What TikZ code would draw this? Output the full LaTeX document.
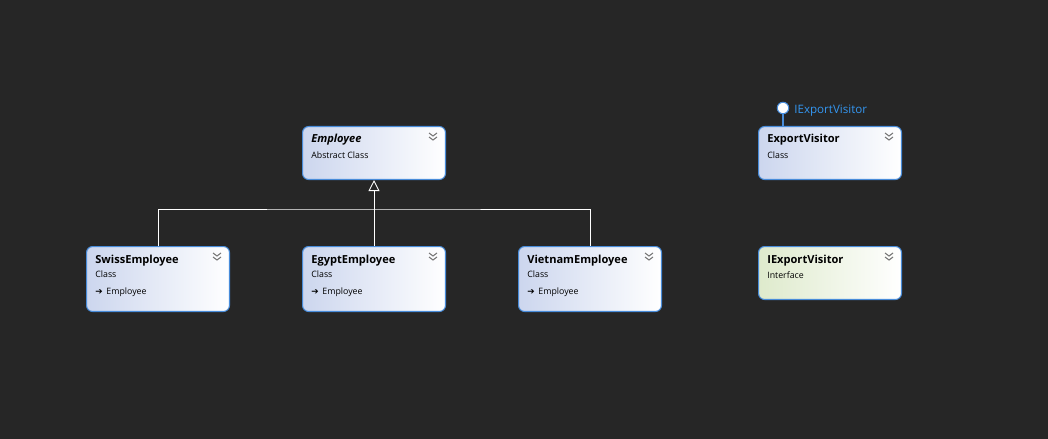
\documentclass[tikz,border=0pt]{standalone}
\usepackage{fontspec}
\setmainfont{Open Sans}
\newfontfamily\symfont{DejaVu Sans}
\usetikzlibrary{positioning,calc,arrows.meta}
\definecolor{bgcol}{RGB}{38,38,38}
\definecolor{boxblue}{RGB}{72,140,218}
\definecolor{boxleft}{RGB}{204,214,238}
\definecolor{ifaceleft}{RGB}{222,234,204}
\definecolor{chevgray}{RGB}{120,120,120}
\definecolor{linkblue}{RGB}{52,150,240}

\tikzset{
  classbox/.style={draw=boxblue, line width=0.6pt, rounded corners=3.5pt,
    left color=boxleft, right color=white, anchor=north west,
    minimum width=2.86cm, minimum height=1.06cm, inner sep=0pt},
  tallbox/.style={classbox, minimum height=1.3cm},
  ifacebox/.style={classbox, left color=ifaceleft},
  title/.style={anchor=base west, inner sep=0pt, font=\fontsize{6.3}{8}\selectfont\bfseries},
  subtitle/.style={anchor=base west, inner sep=0pt, font=\fontsize{5}{6}\selectfont},
  gen/.style={draw=white, line width=0.5pt}
}

\begin{document}
\begin{tikzpicture}[x=0.02cm, y=-0.02cm]
    \fill[bgcol] (0,0) rectangle (1048,439);

    % Employee
    \node[classbox] (employee) at (302,126) {};
    \node[title, font=\fontsize{6.3}{8}\selectfont\bfseries\itshape] (employeeT) at ($(employee.north west)+(9,17)$) {Employee};
    \node[subtitle] (employeeS) at ($(employee.north west)+(9,32)$) {Abstract Class};

    % Swiss
    \node[tallbox] (swiss) at (86,246) {};
    \node[title] (swissT) at ($(swiss.north west)+(9,17)$) {SwissEmployee};
    \node[subtitle] (swissS) at ($(swiss.north west)+(9,31)$) {Class};
    \node[subtitle] (swissB) at ($(swiss.north west)+(9,48)$) {{\symfont ➔}\, Employee};

    % Egypt
    \node[tallbox] (egypt) at (302,246) {};
    \node[title] (egyptT) at ($(egypt.north west)+(9,17)$) {EgyptEmployee};
    \node[subtitle] (egyptS) at ($(egypt.north west)+(9,31)$) {Class};
    \node[subtitle] (egyptB) at ($(egypt.north west)+(9,48)$) {{\symfont ➔}\, Employee};

    % Vietnam
    \node[tallbox] (vietnam) at (518,246) {};
    \node[title] (vietnamT) at ($(vietnam.north west)+(9,17)$) {VietnamEmployee};
    \node[subtitle] (vietnamS) at ($(vietnam.north west)+(9,31)$) {Class};
    \node[subtitle] (vietnamB) at ($(vietnam.north west)+(9,48)$) {{\symfont ➔}\, Employee};

    % Visitor
    \node[classbox] (export) at (758,126) {};
    \node[title] (exportT) at ($(export.north west)+(9,17)$) {ExportVisitor};
    \node[subtitle] (exportS) at ($(export.north west)+(9,32)$) {Class};

    % Interface
    \node[ifacebox] (iexport) at (758,246) {};
    \node[title] (iexportT) at ($(iexport.north west)+(9,17)$) {IExportVisitor};
    \node[subtitle] (iexportS) at ($(iexport.north west)+(9,32)$) {Interface};

    % lollipop
    \node[circle, draw=boxblue, fill=white, line width=0.6pt, minimum size=0.23cm, inner sep=0pt] (lolli) at (783,108) {};
    \node[anchor=west, inner sep=0pt, text=linkblue, font=\fontsize{6.6}{8}\selectfont] (lolliL) at (794,111) {IExportVisitor};
    \draw[boxblue, line width=0.8pt] (lolli) -- (lolli |- export.north);

    % collapse chevrons
    \foreach \b in {employee,swiss,egypt,vietnam,export,iexport}{
        \draw[chevgray, line width=0.6pt] ($(\b.north east)+(-17,7)$) -- ++(4,3) -- ++(4,-3);
        \draw[chevgray, line width=0.6pt] ($(\b.north east)+(-17,11)$) -- ++(4,3) -- ++(4,-3);
    }

    % inheritance
    \coordinate (bar) at (373,209);
    \draw[gen] (swiss.north) |- (bar) -| (vietnam.north);
    \draw[gen, -{Triangle[open, length=0.22cm, width=0.22cm]}] (egypt.north) -- (employee.south);
\end{tikzpicture}
\end{document}
